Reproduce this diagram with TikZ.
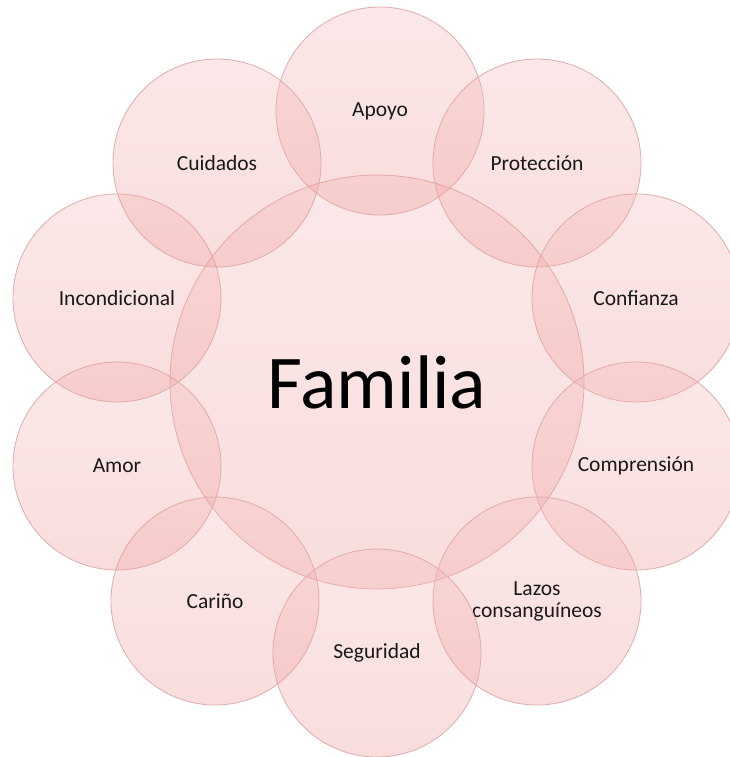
\documentclass[tikz,border=0pt]{standalone}
\usepackage{fontspec}
\setmainfont{Carlito}
\definecolor{ptop}{RGB}{246,186,186}
\definecolor{pbot}{RGB}{238,150,150}
\definecolor{pline}{RGB}{224,172,172}
\begin{document}
\begin{tikzpicture}[x=1pt,y=-1pt,
  bubble/.style={circle, draw=pline, line width=0.8pt, top color=ptop, bottom color=pbot,
    fill opacity=0.32, text opacity=1, inner sep=0pt, align=center,
    font=\fontsize{21.5}{24}\selectfont, text=black!90},
  outer/.style={bubble, minimum size=208pt},
  core/.style={bubble, minimum size=414pt, font=\fontsize{76}{80}\selectfont, text=black}]
\useasboundingbox (0,0) rectangle (730,757);
\fill[white] (0,0) rectangle (730,757);
\node[core] (familia) at (377,382) {Familia};
\node[outer] (apoyo) at (380,111) {Apoyo};
\node[outer] (proteccion) at (537,163) {Protección};
\node[outer] (confianza) at (636,298) {Confianza};
\node[outer] (comprension) at (636,466) {Comprensión};
\node[outer] (lazos) at (537,601) {Lazos\\[-2pt]consanguíneos};
\node[outer] (seguridad) at (377,653) {Seguridad};
\node[outer] (carino) at (215,601) {Cariño};
\node[outer] (amor) at (117,466) {Amor};
\node[outer] (incondicional) at (117,298) {Incondicional};
\node[outer] (cuidados) at (217,163) {Cuidados};
\end{tikzpicture}
\end{document}
